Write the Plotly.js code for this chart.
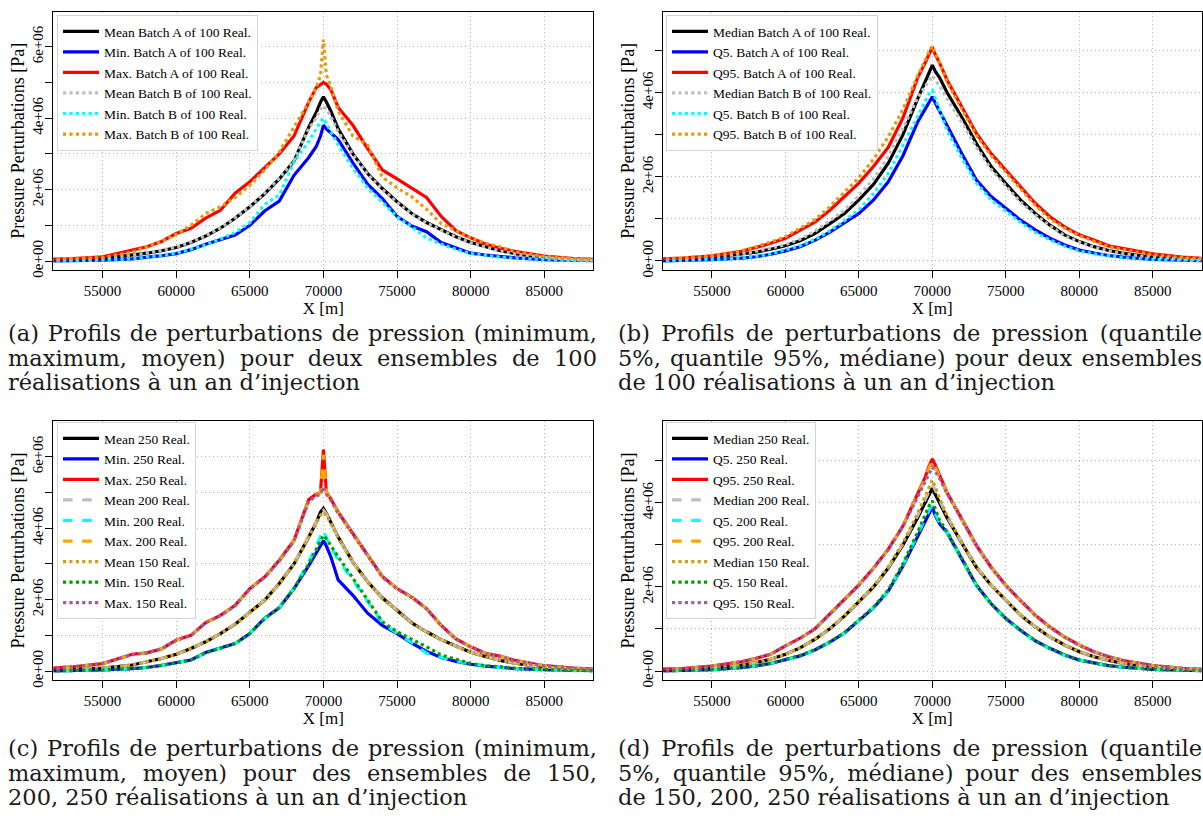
<!DOCTYPE html>
<html>
<head>
<meta charset="utf-8">
<script src="https://cdn.plot.ly/plotly-3.0.1.min.js"></script>
<style>
html,body{margin:0;padding:0;background:#fff;}
#wrap{position:relative;width:1203px;height:823px;overflow:hidden;}
#chart{position:absolute;left:0;top:0;width:1203px;height:823px;}
.cap{position:absolute;font-family:"DejaVu Serif",serif;font-size:22.5px;line-height:24.5px;color:#1a1a1a;}
.cap .ln{text-align:justify;text-align-last:justify;}
.cap .last{text-align:left;text-align-last:left;}
</style>
</head>
<body>
<div id="wrap">
<div id="chart"></div>
<div class="cap" style="left:8px;top:321px;width:589px;">
  <div class="ln">(a) Profils de perturbations de pression (minimum,</div>
  <div class="ln">maximum, moyen) pour deux ensembles de 100</div>
  <div class="ln last">réalisations à un an d’injection</div>
</div>
<div class="cap" style="left:618px;top:321px;width:584px;">
  <div class="ln">(b) Profils de perturbations de pression (quantile</div>
  <div class="ln">5%, quantile 95%, médiane) pour deux ensembles</div>
  <div class="ln last">de 100 réalisations à un an d’injection</div>
</div>
<div class="cap" style="left:8px;top:736px;width:589px;">
  <div class="ln">(c) Profils de perturbations de pression (minimum,</div>
  <div class="ln">maximum, moyen) pour des ensembles de 150,</div>
  <div class="ln last">200, 250 réalisations à un an d’injection</div>
</div>
<div class="cap" style="left:618px;top:736px;width:584px;">
  <div class="ln">(d) Profils de perturbations de pression (quantile</div>
  <div class="ln">5%, quantile 95%, médiane) pour des ensembles</div>
  <div class="ln last">de 150, 200, 250 réalisations à un an d’injection</div>
</div>
</div>
<script>
// ---------------- DATA (pressure perturbations in MPa, i.e. 1e6 Pa) ----------------
const xPos = [51000, 53000, 55000, 57000, 58000, 59000, 60000, 61000, 62000, 63000, 64000, 65000, 66000, 67000, 68000,
  69000, 69500, 69800, 70000, 70200, 70500, 71000,
  72000, 73000, 74000, 75000, 76000, 77000, 78000, 79000, 80000, 81000, 82000, 83000, 85000, 87000, 89000];

const xTickVals = [55000, 60000, 65000, 70000, 75000, 80000, 85000];
const xTickText = ["55000", "60000", "65000", "70000", "75000", "80000", "85000"];
const yTickValsAC = [0, 1e6, 2e6, 3e6, 4e6, 5e6, 6e6];
const yTickTextAC = ["0e+00", "", "2e+06", "", "4e+06", "", "6e+06"];
const yTickValsBD = [0, 1e6, 2e6, 3e6, 4e6, 5e6];
const yTickTextBD = ["0e+00", "", "2e+06", "", "4e+06", ""];

// (a) min / max / mean, two batches of 100 realisations
const meanBatchA = [0.015,0.03,0.07,0.16,0.22,0.29,0.38,0.52,0.70,0.92,1.20,1.52,1.88,2.30,2.80,3.75,4.15,4.45,4.60,4.45,4.20,3.70,3.00,2.45,2.03,1.66,1.33,1.08,0.87,0.68,0.52,0.40,0.29,0.21,0.10,0.04,0.015];
const minBatchA  = [0.0,0.01,0.025,0.06,0.10,0.15,0.21,0.32,0.47,0.60,0.73,1.00,1.40,1.68,2.40,2.90,3.20,3.50,3.80,3.70,3.58,3.40,2.75,2.15,1.75,1.25,0.98,0.82,0.52,0.38,0.22,0.17,0.12,0.09,0.04,0.015,0.005];
const maxBatchA  = [0.05,0.07,0.12,0.30,0.40,0.55,0.77,0.92,1.20,1.42,1.90,2.22,2.60,3.00,3.50,4.45,4.85,4.95,5.00,4.95,4.80,4.30,3.80,3.15,2.55,2.30,2.05,1.78,1.25,0.85,0.65,0.48,0.36,0.27,0.14,0.07,0.04];
const meanBatchB = [0.015,0.03,0.07,0.16,0.22,0.30,0.39,0.53,0.71,0.93,1.21,1.53,1.90,2.32,2.82,3.70,4.00,4.25,4.35,4.25,4.05,3.62,2.98,2.43,2.01,1.64,1.32,1.07,0.86,0.67,0.51,0.39,0.28,0.20,0.10,0.04,0.015];
const minBatchB  = [0.0,0.01,0.025,0.06,0.10,0.16,0.22,0.33,0.45,0.62,0.80,1.08,1.58,1.85,2.78,3.35,3.70,3.90,4.00,3.85,3.60,3.25,2.60,2.05,1.65,1.24,0.96,0.65,0.48,0.33,0.21,0.15,0.11,0.08,0.035,0.012,0.004];
const maxBatchB  = [0.05,0.07,0.10,0.25,0.40,0.55,0.75,1.00,1.33,1.52,1.78,2.12,2.55,3.05,3.75,4.45,4.85,5.20,6.20,5.20,4.90,4.20,3.50,3.25,2.35,2.05,1.80,1.45,1.05,0.85,0.65,0.50,0.40,0.26,0.13,0.07,0.04];

// (b) Q5 / Q95 / median, two batches of 100 realisations
const medBatchA = [0.02,0.04,0.085,0.16,0.21,0.28,0.36,0.48,0.65,0.88,1.12,1.45,1.82,2.32,3.00,3.85,4.25,4.50,4.65,4.50,4.35,4.00,3.42,2.79,2.24,1.84,1.45,1.13,0.85,0.62,0.46,0.34,0.25,0.18,0.095,0.05,0.025];
const q5BatchA  = [0.0,0.01,0.03,0.07,0.10,0.16,0.24,0.34,0.49,0.68,0.90,1.13,1.45,1.88,2.50,3.30,3.60,3.80,3.90,3.75,3.55,3.20,2.55,1.92,1.53,1.25,0.97,0.74,0.54,0.38,0.26,0.19,0.13,0.09,0.04,0.02,0.005];
const q95BatchA = [0.04,0.07,0.12,0.23,0.32,0.42,0.54,0.73,0.92,1.20,1.52,1.85,2.25,2.70,3.40,4.35,4.70,4.95,5.08,4.90,4.70,4.30,3.66,3.03,2.55,2.16,1.76,1.37,1.05,0.81,0.62,0.50,0.36,0.30,0.17,0.09,0.05];
const medBatchB = [0.02,0.04,0.09,0.17,0.23,0.30,0.39,0.52,0.70,0.94,1.20,1.55,1.95,2.48,3.15,3.88,4.15,4.30,4.40,4.30,4.15,3.85,3.30,2.70,2.18,1.78,1.40,1.10,0.83,0.60,0.45,0.33,0.24,0.17,0.09,0.045,0.02];
const q5BatchB  = [0.0,0.01,0.03,0.07,0.11,0.17,0.26,0.36,0.51,0.71,0.95,1.22,1.60,2.08,2.75,3.45,3.80,3.98,4.05,3.85,3.55,3.10,2.45,1.85,1.45,1.18,0.92,0.68,0.50,0.35,0.24,0.17,0.12,0.08,0.035,0.015,0.004];
const q95BatchB = [0.04,0.07,0.12,0.24,0.34,0.45,0.58,0.78,0.98,1.28,1.62,1.98,2.42,2.95,3.60,4.40,4.75,5.00,5.10,4.95,4.70,4.25,3.60,2.98,2.50,2.10,1.70,1.32,1.00,0.78,0.60,0.47,0.34,0.27,0.15,0.08,0.045];

// (c) min / max / mean, ensembles of 250, 200, 150 realisations
const mean250 = [0.02,0.04,0.08,0.17,0.25,0.35,0.47,0.63,0.82,1.05,1.31,1.64,1.98,2.45,3.00,3.75,4.15,4.45,4.55,4.42,4.18,3.75,3.05,2.50,2.05,1.70,1.35,1.10,0.88,0.70,0.53,0.41,0.30,0.22,0.11,0.045,0.02];
const min250  = [0.0,0.01,0.03,0.07,0.10,0.16,0.24,0.31,0.52,0.65,0.77,1.05,1.48,1.77,2.31,2.95,3.30,3.55,3.65,3.50,3.20,2.55,2.12,1.62,1.28,1.05,0.78,0.55,0.38,0.27,0.19,0.14,0.10,0.07,0.04,0.015,0.005];
const max250  = [0.07,0.12,0.21,0.47,0.51,0.62,0.87,1.00,1.36,1.56,1.84,2.31,2.63,3.10,3.66,4.80,4.95,5.00,6.20,5.00,4.82,4.45,3.85,3.24,2.65,2.31,2.07,1.75,1.28,0.90,0.68,0.50,0.42,0.30,0.15,0.08,0.04];
const mean200 = [0.02,0.04,0.08,0.17,0.25,0.35,0.47,0.63,0.82,1.05,1.32,1.64,1.99,2.45,3.01,3.76,4.15,4.42,4.50,4.40,4.17,3.74,3.05,2.50,2.05,1.70,1.35,1.10,0.88,0.70,0.53,0.41,0.30,0.22,0.11,0.045,0.02];
const min200  = [0.0,0.01,0.03,0.07,0.10,0.16,0.24,0.31,0.51,0.64,0.77,1.05,1.47,1.78,2.32,3.05,3.50,3.80,3.95,3.72,3.50,3.10,2.55,1.95,1.35,1.05,0.80,0.50,0.38,0.28,0.20,0.14,0.10,0.07,0.035,0.012,0.004];
const max200  = [0.07,0.12,0.21,0.46,0.51,0.62,0.86,1.00,1.35,1.56,1.84,2.30,2.63,3.08,3.65,4.78,4.93,5.00,6.05,5.00,4.80,4.44,3.84,3.24,2.65,2.31,2.07,1.75,1.28,0.90,0.68,0.50,0.42,0.30,0.15,0.08,0.04];
const mean150 = [0.02,0.04,0.08,0.17,0.25,0.35,0.47,0.63,0.82,1.05,1.31,1.63,1.98,2.44,3.00,3.74,4.12,4.36,4.45,4.35,4.15,3.73,3.04,2.49,2.04,1.69,1.34,1.09,0.87,0.69,0.52,0.40,0.30,0.22,0.11,0.045,0.02];
const min150  = [0.0,0.01,0.03,0.07,0.10,0.16,0.24,0.31,0.51,0.64,0.77,1.05,1.46,1.78,2.31,3.00,3.40,3.65,3.80,3.70,3.50,3.20,2.60,2.00,1.38,1.10,0.90,0.68,0.45,0.32,0.21,0.15,0.11,0.08,0.04,0.015,0.005];
const max150  = [0.07,0.12,0.21,0.46,0.51,0.62,0.86,1.00,1.35,1.55,1.83,2.30,2.62,3.08,3.64,4.75,4.90,4.95,5.15,4.95,4.78,4.42,3.83,3.22,2.63,2.30,2.06,1.74,1.27,0.89,0.67,0.50,0.41,0.29,0.15,0.08,0.04];

// (d) Q5 / Q95 / median, ensembles of 250, 200, 150 realisations
const med250 = [0.02,0.035,0.07,0.14,0.20,0.28,0.40,0.55,0.75,1.00,1.30,1.65,2.00,2.45,3.00,3.65,4.00,4.25,4.35,4.20,4.00,3.65,3.05,2.47,2.04,1.68,1.33,1.05,0.81,0.62,0.46,0.34,0.25,0.18,0.09,0.045,0.02];
const q5_250 = [0.0,0.01,0.03,0.08,0.12,0.18,0.27,0.36,0.50,0.68,0.90,1.20,1.50,1.90,2.50,3.20,3.55,3.78,3.90,3.70,3.50,3.30,2.67,2.04,1.60,1.25,0.97,0.72,0.54,0.38,0.26,0.19,0.13,0.09,0.04,0.02,0.005];
const q95_250 = [0.035,0.06,0.12,0.22,0.30,0.40,0.60,0.78,1.00,1.35,1.70,2.05,2.45,2.90,3.45,4.20,4.60,4.90,5.05,4.90,4.65,4.25,3.62,2.99,2.47,2.04,1.68,1.33,1.05,0.81,0.62,0.46,0.34,0.25,0.13,0.065,0.03];
const med200 = [0.02,0.035,0.07,0.14,0.20,0.28,0.40,0.55,0.75,1.00,1.31,1.66,2.01,2.47,3.03,3.70,4.08,4.33,4.45,4.30,4.05,3.68,3.06,2.48,2.05,1.69,1.34,1.05,0.81,0.62,0.46,0.34,0.25,0.18,0.09,0.045,0.02];
const q5_200 = [0.0,0.01,0.03,0.08,0.12,0.18,0.27,0.36,0.50,0.68,0.90,1.20,1.51,1.91,2.52,3.25,3.62,3.85,3.95,3.75,3.52,3.30,2.66,2.03,1.59,1.24,0.96,0.71,0.53,0.37,0.26,0.19,0.13,0.09,0.04,0.02,0.005];
const q95_200 = [0.035,0.06,0.12,0.22,0.30,0.40,0.60,0.78,1.00,1.35,1.70,2.05,2.45,2.90,3.45,4.18,4.57,4.85,5.00,4.85,4.62,4.24,3.61,2.98,2.46,2.04,1.68,1.33,1.05,0.81,0.62,0.46,0.34,0.25,0.13,0.065,0.03];
const med150 = [0.02,0.035,0.07,0.14,0.20,0.28,0.40,0.55,0.76,1.01,1.31,1.66,2.02,2.48,3.05,3.75,4.15,4.42,4.55,4.38,4.10,3.70,3.07,2.49,2.05,1.69,1.34,1.06,0.82,0.62,0.46,0.34,0.25,0.18,0.09,0.045,0.02];
const q5_150 = [0.0,0.01,0.03,0.08,0.12,0.18,0.27,0.37,0.51,0.69,0.91,1.21,1.52,1.93,2.55,3.30,3.70,3.95,4.05,3.85,3.58,3.32,2.68,2.05,1.60,1.25,0.97,0.72,0.54,0.38,0.26,0.19,0.13,0.09,0.04,0.02,0.005];
const q95_150 = [0.035,0.06,0.12,0.22,0.30,0.40,0.60,0.78,1.00,1.34,1.69,2.04,2.44,2.89,3.44,4.15,4.50,4.75,4.85,4.75,4.58,4.22,3.60,2.98,2.46,2.03,1.67,1.32,1.04,0.80,0.61,0.46,0.34,0.25,0.13,0.065,0.03];

const MPA_TO_PA = 1e6;

// ---------------- STYLES ----------------
const FONT = "Liberation Serif";
const C = {black:"#000000", blue:"#0000FF", red:"#FF0000", gray:"#BEBEBE", cyan:"#00FFFF",
           orangeB:"#E8990C", orange:"#FFA500", gold:"#D4A017", green:"#00A000", purple:"#9B5FA5"};

function tr(name, vals, color, dash, ax, legend) {
  return {
    type: "scatter", mode: "lines", name: name,
    x: xPos, y: vals.map(v => v * MPA_TO_PA),
    xaxis: "x" + ax, yaxis: "y" + ax, legend: legend,
    line: {color: color, width: 3.2, dash: dash},
    hoverinfo: "x+y+name"
  };
}

const traces = [
  tr("Mean Batch A of 100 Real.", meanBatchA, C.black, "solid", "", "legend"),
  tr("Min. Batch A of 100 Real.", minBatchA, C.blue, "solid", "", "legend"),
  tr("Max. Batch A of 100 Real.", maxBatchA, C.red, "solid", "", "legend"),
  tr("Mean Batch B of 100 Real.", meanBatchB, C.gray, "dot", "", "legend"),
  tr("Min. Batch B of 100 Real.", minBatchB, C.cyan, "dot", "", "legend"),
  tr("Max. Batch B of 100 Real.", maxBatchB, C.orangeB, "dot", "", "legend"),

  tr("Median Batch A of 100 Real.", medBatchA, C.black, "solid", "2", "legend2"),
  tr("Q5. Batch A of 100 Real.", q5BatchA, C.blue, "solid", "2", "legend2"),
  tr("Q95. Batch A of 100 Real.", q95BatchA, C.red, "solid", "2", "legend2"),
  tr("Median Batch B of 100 Real.", medBatchB, C.gray, "dot", "2", "legend2"),
  tr("Q5. Batch B of 100 Real.", q5BatchB, C.cyan, "dot", "2", "legend2"),
  tr("Q95. Batch B of 100 Real.", q95BatchB, C.orangeB, "dot", "2", "legend2"),

  tr("Mean 250 Real.", mean250, C.black, "solid", "3", "legend3"),
  tr("Min. 250 Real.", min250, C.blue, "solid", "3", "legend3"),
  tr("Max. 250 Real.", max250, C.red, "solid", "3", "legend3"),
  tr("Mean 200 Real.", mean200, C.gray, "dash", "3", "legend3"),
  tr("Min. 200 Real.", min200, C.cyan, "dash", "3", "legend3"),
  tr("Max. 200 Real.", max200, C.orange, "dash", "3", "legend3"),
  tr("Mean 150 Real.", mean150, C.gold, "dot", "3", "legend3"),
  tr("Min. 150 Real.", min150, C.green, "dot", "3", "legend3"),
  tr("Max. 150 Real.", max150, C.purple, "dot", "3", "legend3"),

  tr("Median 250 Real.", med250, C.black, "solid", "4", "legend4"),
  tr("Q5. 250 Real.", q5_250, C.blue, "solid", "4", "legend4"),
  tr("Q95. 250 Real.", q95_250, C.red, "solid", "4", "legend4"),
  tr("Median 200 Real.", med200, C.gray, "dash", "4", "legend4"),
  tr("Q5. 200 Real.", q5_200, C.cyan, "dash", "4", "legend4"),
  tr("Q95. 200 Real.", q95_200, C.orange, "dash", "4", "legend4"),
  tr("Median 150 Real.", med150, C.gold, "dot", "4", "legend4"),
  tr("Q5. 150 Real.", q5_150, C.green, "dot", "4", "legend4"),
  tr("Q95. 150 Real.", q95_150, C.purple, "dot", "4", "legend4")
];

function xax(domain, anchor) {
  return {
    domain: domain, anchor: anchor, range: [51650, 88330],
    tickmode: "array", tickvals: xTickVals, ticktext: xTickText,
    showline: true, mirror: true, linecolor: "black", linewidth: 1,
    ticks: "outside", ticklen: 7, tickcolor: "black", tickwidth: 1,
    showgrid: true, gridcolor: "#b4b4b4", griddash: "1px,3px", gridwidth: 1, zeroline: false,
    tickfont: {family: FONT, size: 15, color: "black"},
    title: {text: "X [m]", font: {family: FONT, size: 17, color: "black"}, standoff: 0}
  };
}
function yax(domain, anchor, range, vals, text) {
  return {
    domain: domain, anchor: anchor, range: range,
    tickmode: "array", tickvals: vals, ticktext: text, tickangle: -90,
    ticklabelstandoff: -4,
    showline: true, mirror: true, linecolor: "black", linewidth: 1,
    ticks: "outside", ticklen: 7, tickcolor: "black", tickwidth: 1,
    showgrid: true, gridcolor: "#b4b4b4", griddash: "1px,3px", gridwidth: 1, zeroline: false,
    tickfont: {family: FONT, size: 15, color: "black"},
    title: {text: "Pressure Perturbations [Pa]", font: {family: FONT, size: 18, color: "black"}, standoff: 0}
  };
}
function leg(x, y) {
  return {x: x, y: y, xanchor: "left", yanchor: "top", bgcolor: "white",
          bordercolor: "#d4d4d4", borderwidth: 1, itemwidth: 36, tracegroupgap: 0,
          font: {family: FONT, size: 13.5, color: "black"}};
}

const W = 1203, H = 823;
const xdomL = [53.3 / W, 593.3 / W], xdomR = [662.7 / W, 1201.7 / W];
const ydomT = [1 - 270 / H, 1 - 11.7 / H], ydomB = [1 - 680 / H, 1 - 421 / H];

const layout = {
  width: W, height: H, margin: {l: 0, r: 0, t: 0, b: 0},
  paper_bgcolor: "white", plot_bgcolor: "white",
  font: {family: FONT, color: "black"},
  showlegend: true,
  xaxis: xax(xdomL, "y"),
  yaxis: yax(ydomT, "x", [-0.25e6, 6.98e6], yTickValsAC, yTickTextAC),
  xaxis2: xax(xdomR, "y2"),
  yaxis2: yax(ydomT, "x2", [-0.214e6, 5.92e6], yTickValsBD, yTickTextBD),
  xaxis3: xax(xdomL, "y3"),
  yaxis3: yax(ydomB, "x3", [-0.25e6, 7.0e6], yTickValsAC, yTickTextAC),
  xaxis4: xax(xdomR, "y4"),
  yaxis4: yax(ydomB, "x4", [-0.214e6, 5.95e6], yTickValsBD, yTickTextBD),
  legend: leg(57 / W, 1 - 15 / H),
  legend2: leg(666 / W, 1 - 15 / H),
  legend3: leg(57 / W, 1 - 422 / H),
  legend4: leg(666 / W, 1 - 422 / H)
};

Plotly.newPlot("chart", traces, layout, {displayModeBar: false, staticPlot: true});
</script>
</body>
</html>
